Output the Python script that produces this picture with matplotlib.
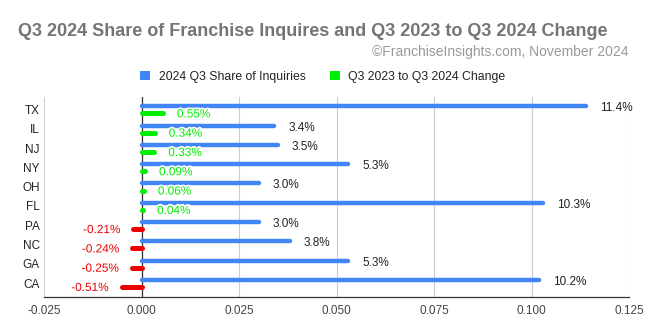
import matplotlib
matplotlib.use("Agg")
import matplotlib.pyplot as plt
import matplotlib.patheffects as pe
from matplotlib.patches import Patch
import numpy as np

states = ["TX", "IL", "NJ", "NY", "OH", "FL", "PA", "NC", "GA", "CA"]
share = [0.114, 0.034, 0.035, 0.053, 0.030, 0.103, 0.030, 0.038, 0.053, 0.102]
share_labels = ["11.4%", "3.4%", "3.5%", "5.3%", "3.0%", "10.3%", "3.0%", "3.8%", "5.3%", "10.2%"]
change = [0.0055, 0.0034, 0.0033, 0.0009, 0.0006, 0.0004, -0.0021, -0.0024, -0.0025, -0.0051]
change_labels = ["0.55%", "0.34%", "0.33%", "0.09%", "0.06%", "0.04%", "-0.21%", "-0.24%", "-0.25%", "-0.51%"]
xticks = [-0.025, 0.0, 0.025, 0.05, 0.075, 0.1, 0.125]
xtick_labels = ["-0.025", "0.000", "0.025", "0.050", "0.075", "0.100", "0.125"]

BLUE = "#4285f4"
GREEN = "#00ee00"
RED = "#ee0000"
FONT = "Liberation Sans"

plt.rcParams["font.family"] = [FONT, "DejaVu Sans"]

W, H = 646, 333
fig = plt.figure(figsize=(W / 100, H / 100), dpi=100)
ax = fig.add_axes([44 / W, (H - 297) / H, (629 - 44) / W, (297 - 97) / H])

y = np.arange(len(states))
yb = y - 0.17
yc = y + 0.2

ax.hlines(yb, 0, share, colors=BLUE, linewidth=3.2, capstyle="round", zorder=3)
ccols = [GREEN if v >= 0 else RED for v in change]
ax.hlines(yc, 0, change, colors=ccols, linewidth=3.6, capstyle="round", zorder=3)

halo = [pe.withStroke(linewidth=2.5, foreground="white")]
for yi, v, lab in zip(yb, share, share_labels):
    ax.annotate(lab, (v, yi), xytext=(14, -2), textcoords="offset pixels",
                ha="left", va="center", fontsize=8.5, color="#222222", zorder=4)
for yi, v, lab, c in zip(yc, change, change_labels, ccols):
    if v >= 0:
        ax.annotate(lab, (v, yi), xytext=(14, -1), textcoords="offset pixels",
                    ha="left", va="center", fontsize=8.5, color=c, zorder=4,
                    path_effects=halo)
    else:
        ax.annotate(lab, (v, yi), xytext=(-13, -1), textcoords="offset pixels",
                    ha="right", va="center", fontsize=8.5, color=c, zorder=4,
                    path_effects=halo)

ax.set_xlim(-0.025, 0.125)
ax.set_ylim(9.72, -0.65)
ax.set_xticks(xticks)
ax.set_xticklabels(xtick_labels, fontsize=8.5, color="#444444")
ax.set_yticks(y)
ax.set_yticklabels(states, fontsize=8.5, color="#222222")
ax.tick_params(axis="both", length=0, pad=6)
ax.tick_params(axis="y", pad=3)
ax.grid(axis="x", color="#cccccc", linewidth=0.8, zorder=0)
ax.axvline(0, color="#333333", linewidth=0.9, zorder=2)
for s in ["top", "right", "left"]:
    ax.spines[s].set_visible(False)
ax.spines["bottom"].set_color("#333333")
ax.spines["bottom"].set_linewidth(0.9)

fig.text(18 / W, 1 - 32 / H, "Q3 2024 Share of Franchise Inquires and Q3 2023 to Q3 2024 Change",
         fontsize=13, fontweight="bold", color="#757575", ha="left", va="center")
fig.text(628 / W, 1 - 52 / H, "©FranchiseInsights.com, November 2024",
         fontsize=10, color="#999999", ha="right", va="center")

handles = [Patch(facecolor=BLUE, edgecolor="none"), Patch(facecolor=GREEN, edgecolor="none")]
fig.legend(handles, ["2024 Q3 Share of Inquiries", "Q3 2023 to Q3 2024 Change"],
           loc="center", bbox_to_anchor=(323 / W, 1 - 77 / H), ncol=2, frameon=False,
           fontsize=8.8, handlelength=0.8, handleheight=0.8, columnspacing=2.0,
           handletextpad=0.7, labelcolor="#222222")

fig.savefig("out.png", dpi=100)
